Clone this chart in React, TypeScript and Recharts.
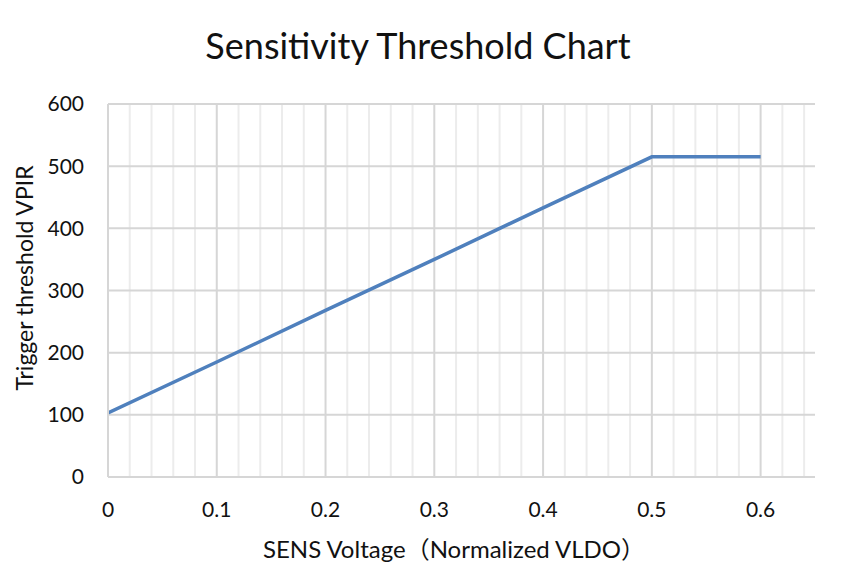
import { LineChart, Line, XAxis, YAxis, CartesianGrid } from "recharts";

// SENS voltage (normalized VLDO) vs trigger threshold VPIR
const sensVoltage = [0, 0.1, 0.2, 0.3, 0.4, 0.5, 0.6];
const threshold = [103, 185, 268, 350, 433, 515, 515];

const xTicks = [0, 0.1, 0.2, 0.3, 0.4, 0.5, 0.6];
const yTicks = [0, 100, 200, 300, 400, 500, 600];
const minorX = [0.02, 0.04, 0.06, 0.08, 0.12, 0.14, 0.16, 0.18, 0.22, 0.24, 0.26, 0.28,
  0.32, 0.34, 0.36, 0.38, 0.42, 0.44, 0.46, 0.48, 0.52, 0.54, 0.56, 0.58, 0.62, 0.64];

const data = sensVoltage.map((x, i) => ({ x, y: threshold[i] }));

const font = "Lato, 'Noto Sans CJK SC', sans-serif";

export default function App() {
  return (
    <div style={{ position: "relative", width: 860, height: 568, margin: "-8px 0 0 -8px", background: "#fff", fontFamily: font, color: "#111" }}>
      <div style={{ position: "absolute", top: 3, left: 0, width: 860, borderTop: "2px solid #e2e2e2" }} />
      <div style={{ position: "absolute", top: 23, left: 0, width: 836, lineHeight: "44px", textAlign: "center", fontSize: 36 }}>
        Sensitivity Threshold Chart
      </div>
      <LineChart width={860} height={568} data={data} margin={{ top: 104, right: 45, bottom: 61, left: 0 }}>
        {/* minor verticals every 0.02 - interval 0 on the axis keeps them all */}
        <CartesianGrid stroke="#ececec" strokeWidth={2} horizontal={false} verticalValues={minorX} />
        <CartesianGrid stroke="#d6d6d6" strokeWidth={2} verticalValues={xTicks} horizontalValues={yTicks} />
        <XAxis
          dataKey="x" type="number" domain={[0, 0.65]} ticks={xTicks} interval={0} allowDataOverflow
          axisLine={{ stroke: "#d6d6d6", strokeWidth: 2 }} tickLine={false} tickSize={0} tickMargin={25}
          tick={{ fontSize: 21, fill: "#111", fontFamily: font }}
        />
        <YAxis
          type="number" domain={[0, 600]} ticks={yTicks} interval={0} width={108}
          axisLine={{ stroke: "#d6d6d6", strokeWidth: 2 }} tickLine={false} tickSize={0} tickMargin={24}
          tick={{ fontSize: 21, fill: "#111", fontFamily: font }}
        />
        <Line type="linear" dataKey="y" stroke="#4f80bd" strokeWidth={3.5} dot={false} isAnimationActive={false} />
      </LineChart>
      <div style={{ position: "absolute", top: 534, left: 0, width: 908, lineHeight: "30px", textAlign: "center", fontSize: 24, whiteSpace: "nowrap" }}>
        SENS Voltage（Normalized VLDO）
      </div>
      <div style={{ position: "absolute", left: 24, top: 278, width: 300, marginLeft: -150, marginTop: -14, height: 28, lineHeight: "28px", textAlign: "center", fontSize: 23, transform: "rotate(-90deg)", whiteSpace: "nowrap" }}>
        Trigger threshold VPIR
      </div>
    </div>
  );
}
